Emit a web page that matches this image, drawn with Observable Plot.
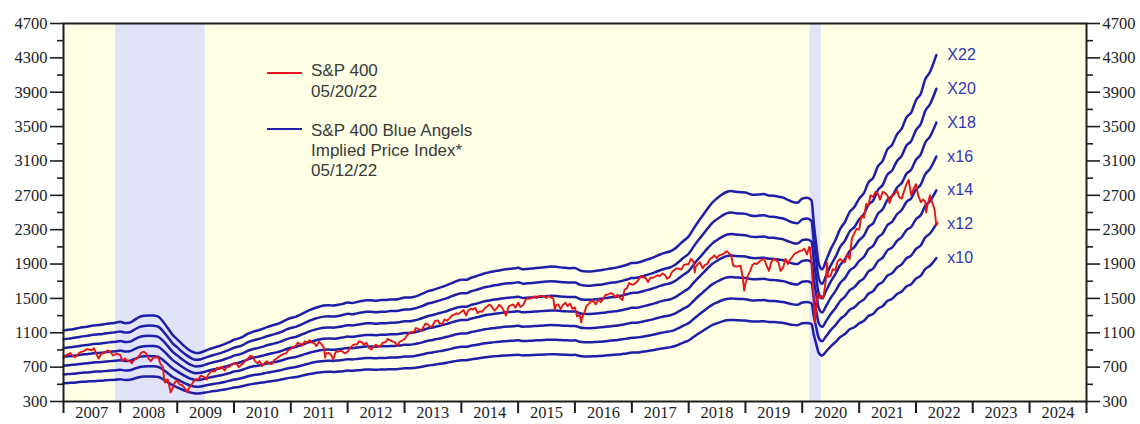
<!DOCTYPE html>
<html><head><meta charset="utf-8">
<script src="https://cdn.jsdelivr.net/npm/d3@7"></script>
<script src="https://cdn.jsdelivr.net/npm/@observablehq/plot@0.6"></script>
<style>
html,body{margin:0;padding:0;background:#fff;}
#wrap{position:relative;width:1140px;height:424px;overflow:hidden;}
.lg{position:absolute;font-family:"Liberation Sans",Arial,sans-serif;font-size:17px;color:#3a3a3a;line-height:20px;white-space:nowrap;}
.sw{position:absolute;height:2px;width:35px;}
</style></head><body>
<div id="wrap"></div>
<script>
// ---- data ----
const multiples = [10, 12, 14, 16, 18, 20, 22];
const multLabels = ["x10", "x12", "x14", "x16", "X18", "X20", "X22"];
const yTicks = [300, 700, 1100, 1500, 1900, 2300, 2700, 3100, 3500, 3900, 4300, 4700];
const yMinor = [500, 900, 1300, 1700, 2100, 2500, 2900, 3300, 3700, 4100, 4500];
const years = [2007, 2008, 2009, 2010, 2011, 2012, 2013, 2014, 2015, 2016, 2017, 2018, 2019, 2020, 2021, 2022, 2023, 2024];
const recessions = [["2007-12-01", "2009-06-30"], ["2020-02-20", "2020-05-01"]];

// S&P 400 forward earnings implied by the Blue Angels lines (line value / multiple)
const fwdEps = [
["2007-01",51.2],["2007-02",51.6],["2007-03",51.9],["2007-04",52.4],["2007-05",52.9],["2007-06",53.2],["2007-07",53.7],["2007-08",54.0],["2007-09",54.2],["2007-10",54.7],["2007-11",55.0],["2007-12",55.3],
["2008-01",55.8],["2008-02",55.1],["2008-03",55.3],["2008-04",56.8],["2008-05",58.3],["2008-06",59.0],["2008-07",59.2],["2008-08",59.1],["2008-09",58.5],["2008-10",56.0],["2008-11",52.5],["2008-12",49.0],
["2009-01",46.5],["2009-02",44.0],["2009-03",42.0],["2009-04",40.2],["2009-05",39.3],["2009-06",39.6],["2009-07",40.5],["2009-08",41.5],["2009-09",42.3],["2009-10",43.0],["2009-11",44.0],["2009-12",45.0],
["2010-01",46.3],["2010-02",47.0],["2010-03",48.0],["2010-04",49.5],["2010-05",50.5],["2010-06",51.2],["2010-07",52.0],["2010-08",53.0],["2010-09",53.8],["2010-10",54.5],["2010-11",55.5],["2010-12",56.8],
["2011-01",57.8],["2011-02",58.4],["2011-03",59.5],["2011-04",60.8],["2011-05",62.0],["2011-06",63.0],["2011-07",63.8],["2011-08",64.4],["2011-09",64.6],["2011-10",64.4],["2011-11",64.8],["2011-12",65.3],
["2012-01",66.0],["2012-02",65.8],["2012-03",66.3],["2012-04",66.8],["2012-05",67.2],["2012-06",67.2],["2012-07",66.9],["2012-08",67.3],["2012-09",67.3],["2012-10",67.6],["2012-11",67.6],["2012-12",68.0],
["2013-01",68.6],["2013-02",68.6],["2013-03",69.0],["2013-04",69.8],["2013-05",70.8],["2013-06",72.0],["2013-07",72.6],["2013-08",73.5],["2013-09",74.3],["2013-10",75.2],["2013-11",76.3],["2013-12",77.3],
["2014-01",78.0],["2014-02",78.0],["2014-03",79.0],["2014-04",79.8],["2014-05",80.6],["2014-06",81.5],["2014-07",82.0],["2014-08",82.6],["2014-09",83.0],["2014-10",83.5],["2014-11",83.8],["2014-12",84.0],
["2015-01",84.4],["2015-02",83.6],["2015-03",83.8],["2015-04",84.0],["2015-05",84.3],["2015-06",84.5],["2015-07",84.8],["2015-08",85.0],["2015-09",84.9],["2015-10",84.6],["2015-11",84.4],["2015-12",84.2],
["2016-01",84.3],["2016-02",83.0],["2016-03",82.5],["2016-04",82.4],["2016-05",82.6],["2016-06",82.9],["2016-07",83.3],["2016-08",83.8],["2016-09",84.2],["2016-10",84.6],["2016-11",85.3],["2016-12",86.0],
["2017-01",86.9],["2017-02",87.0],["2017-03",87.6],["2017-04",88.5],["2017-05",89.3],["2017-06",90.3],["2017-07",91.4],["2017-08",92.3],["2017-09",93.0],["2017-10",94.3],["2017-11",96.5],["2017-12",98.8],
["2018-01",101.0],["2018-02",105.0],["2018-03",108.5],["2018-04",112.0],["2018-05",115.5],["2018-06",118.8],["2018-07",121.0],["2018-08",123.0],["2018-09",124.5],["2018-10",125.0],["2018-11",124.6],["2018-12",124.4],
["2019-01",124.2],["2019-02",123.3],["2019-03",123.0],["2019-04",123.2],["2019-05",123.4],["2019-06",122.6],["2019-07",122.5],["2019-08",122.0],["2019-09",121.5],["2019-10",120.3],["2019-11",119.2],["2019-12",118.8],
["2020-01",121.0],["2020-02",121.5],["2020-03",120.0],["2020-03-15",108.0],["2020-04",96.0],["2020-04-15",87.0],["2020-05-08",83.5],["2020-06",88.0],["2020-07",94.0],["2020-08",99.0],["2020-09",105.0],["2020-10",108.5],["2020-11",114.0],["2020-12",116.5],
["2021-01",121.0],["2021-02",124.0],["2021-03",129.5],["2021-04",132.0],["2021-05",138.0],["2021-06",141.0],["2021-07",147.0],["2021-08",149.5],["2021-09",155.0],["2021-10",158.0],["2021-11",164.0],["2021-12",166.5],
["2022-01",173.0],["2022-02",176.5],["2022-03",184.0],["2022-04",188.0],["2022-05-12",197.0]
];

// S&P 400 index (red)
const sp400 = [
["2007-01-01",805],["2007-01-15",840],["2007-02-01",850],["2007-02-15",865],["2007-03-01",830],["2007-03-15",815],["2007-04-01",845],["2007-04-15",870],["2007-05-01",880],["2007-05-15",890],["2007-06-01",910],["2007-06-15",905],["2007-07-01",895],["2007-07-15",920],["2007-08-01",850],["2007-08-15",800],["2007-09-01",855],["2007-09-15",860],["2007-10-01",880],["2007-10-15",895],["2007-11-01",870],["2007-11-15",835],["2007-12-01",850],["2007-12-15",855],
["2008-01-01",840],["2008-01-15",770],["2008-02-01",800],["2008-02-15",775],["2008-03-01",770],["2008-03-15",745],["2008-04-01",790],["2008-04-15",800],["2008-05-01",830],["2008-05-15",870],["2008-06-01",880],["2008-06-15",860],["2008-07-01",800],["2008-07-15",770],["2008-08-01",810],["2008-08-15",815],["2008-09-01",810],["2008-09-15",740],["2008-10-01",700],["2008-10-10",540],["2008-10-15",520],["2008-11-01",560],["2008-11-20",405],["2008-12-01",450],["2008-12-15",520],
["2009-01-01",545],["2009-01-15",500],["2009-02-01",490],["2009-02-15",460],["2009-03-01",430],["2009-03-09",405],["2009-03-15",450],["2009-04-01",490],["2009-04-15",530],["2009-05-01",560],["2009-05-15",555],["2009-06-01",600],["2009-06-15",590],["2009-07-01",575],["2009-07-10",555],["2009-07-15",600],["2009-08-01",640],["2009-08-15",655],["2009-09-01",650],["2009-09-15",695],["2009-10-01",680],["2009-10-15",705],["2009-11-01",660],["2009-11-15",700],["2009-12-01",705],["2009-12-15",725],
["2010-01-01",740],["2010-01-15",745],["2010-02-01",700],["2010-02-15",725],["2010-03-01",745],["2010-03-15",775],["2010-04-01",800],["2010-04-15",830],["2010-05-01",825],["2010-05-15",770],["2010-06-01",745],["2010-06-15",770],["2010-07-01",710],["2010-07-15",745],["2010-08-01",770],["2010-08-15",740],["2010-09-01",735],["2010-09-15",780],["2010-10-01",800],["2010-10-15",820],["2010-11-01",840],["2010-11-15",855],["2010-12-01",860],["2010-12-15",895],
["2011-01-01",910],["2011-01-15",935],["2011-02-01",945],["2011-02-15",985],["2011-03-01",970],["2011-03-15",950],["2011-04-01",1000],["2011-04-15",985],["2011-05-01",1015],["2011-05-15",985],["2011-06-01",980],["2011-06-15",945],["2011-07-01",995],["2011-07-15",970],["2011-08-01",930],["2011-08-10",810],["2011-08-15",860],["2011-09-01",865],["2011-09-15",850],["2011-10-01",790],["2011-10-15",875],["2011-11-01",880],["2011-11-15",890],["2011-12-01",880],["2011-12-15",860],
["2012-01-01",880],["2012-01-15",920],["2012-02-01",950],["2012-02-15",965],["2012-03-01",965],["2012-03-15",1000],["2012-04-01",990],["2012-04-15",960],["2012-05-01",985],["2012-05-15",925],["2012-06-01",905],["2012-06-15",935],["2012-07-01",960],["2012-07-15",940],["2012-08-01",950],["2012-08-15",985],["2012-09-01",990],["2012-09-15",1030],["2012-10-01",1010],["2012-10-15",1000],["2012-11-01",985],["2012-11-15",950],["2012-12-01",995],["2012-12-15",1010],
["2013-01-01",1025],["2013-01-15",1065],["2013-02-01",1100],["2013-02-15",1110],["2013-03-01",1105],["2013-03-15",1155],["2013-04-01",1145],["2013-04-15",1120],["2013-05-01",1160],["2013-05-15",1205],["2013-06-01",1195],["2013-06-15",1165],["2013-07-01",1185],["2013-07-15",1235],["2013-08-01",1245],["2013-08-15",1210],["2013-09-01",1200],["2013-09-15",1255],["2013-10-01",1240],["2013-10-15",1265],["2013-11-01",1300],["2013-11-15",1310],["2013-12-01",1325],["2013-12-15",1320],
["2014-01-01",1345],["2014-01-15",1365],["2014-02-01",1300],["2014-02-15",1360],["2014-03-01",1380],["2014-03-15",1370],["2014-04-01",1390],["2014-04-15",1330],["2014-05-01",1350],["2014-05-15",1345],["2014-06-01",1385],["2014-06-15",1405],["2014-07-01",1430],["2014-07-15",1405],["2014-08-01",1360],["2014-08-15",1380],["2014-09-01",1425],["2014-09-15",1405],["2014-10-01",1355],["2014-10-15",1300],["2014-11-01",1405],["2014-11-15",1420],["2014-12-01",1430],["2014-12-15",1390],
["2015-01-01",1450],["2015-01-15",1400],["2015-02-01",1420],["2015-02-15",1475],["2015-03-01",1500],["2015-03-15",1495],["2015-04-01",1510],["2015-04-15",1525],["2015-05-01",1505],["2015-05-15",1525],["2015-06-01",1530],["2015-06-15",1525],["2015-07-01",1505],["2015-07-15",1530],["2015-08-01",1510],["2015-08-15",1500],["2015-08-25",1370],["2015-09-01",1420],["2015-09-15",1430],["2015-10-01",1375],["2015-10-15",1420],["2015-11-01",1450],["2015-11-15",1410],["2015-12-01",1440],["2015-12-15",1380],
["2016-01-01",1395],["2016-01-15",1290],["2016-02-01",1310],["2016-02-11",1220],["2016-02-15",1270],["2016-03-01",1330],["2016-03-15",1410],["2016-04-01",1440],["2016-04-15",1470],["2016-05-01",1465],["2016-05-15",1430],["2016-06-01",1490],["2016-06-15",1455],["2016-07-01",1495],["2016-07-15",1540],["2016-08-01",1545],["2016-08-15",1560],["2016-09-01",1555],["2016-09-15",1510],["2016-10-01",1545],["2016-10-15",1510],["2016-11-01",1480],["2016-11-15",1600],["2016-12-01",1620],["2016-12-15",1680],
["2017-01-01",1660],["2017-01-15",1665],["2017-02-01",1690],["2017-02-15",1725],["2017-03-01",1760],["2017-03-15",1745],["2017-04-01",1735],["2017-04-15",1690],["2017-05-01",1740],["2017-05-15",1740],["2017-06-01",1755],["2017-06-15",1770],["2017-07-01",1760],["2017-07-15",1790],["2017-08-01",1775],["2017-08-15",1730],["2017-09-01",1750],["2017-09-15",1805],["2017-10-01",1830],["2017-10-15",1850],["2017-11-01",1845],["2017-11-15",1835],["2017-12-01",1890],["2017-12-15",1895],
["2018-01-01",1900],["2018-01-15",1960],["2018-02-01",1930],["2018-02-09",1800],["2018-02-15",1870],["2018-03-01",1900],["2018-03-15",1920],["2018-04-01",1850],["2018-04-15",1890],["2018-05-01",1900],["2018-05-15",1950],["2018-06-01",1975],["2018-06-15",2000],["2018-07-01",1970],["2018-07-15",2000],["2018-08-01",2010],["2018-08-15",2020],["2018-09-01",2050],["2018-09-15",2030],["2018-10-01",2000],["2018-10-15",1880],["2018-11-01",1870],["2018-11-15",1875],["2018-12-01",1880],["2018-12-15",1740],["2018-12-24",1590],
["2019-01-01",1670],["2019-01-15",1760],["2019-02-01",1820],["2019-02-15",1890],["2019-03-01",1910],["2019-03-15",1900],["2019-04-01",1930],["2019-04-15",1950],["2019-05-01",1960],["2019-05-15",1890],["2019-06-01",1820],["2019-06-15",1920],["2019-07-01",1960],["2019-07-15",1950],["2019-08-01",1920],["2019-08-15",1820],["2019-09-01",1860],["2019-09-15",1960],["2019-10-01",1900],["2019-10-15",1950],["2019-11-01",1990],["2019-11-15",2025],["2019-12-01",2035],["2019-12-15",2050],
["2020-01-01",2060],["2020-01-15",2080],["2020-02-01",2010],["2020-02-15",2100],["2020-02-20",2090],["2020-03-01",1890],["2020-03-09",1650],["2020-03-16",1400],["2020-03-23",1220],["2020-04-01",1420],["2020-04-09",1560],["2020-04-15",1500],["2020-05-01",1530],["2020-05-15",1500],["2020-06-01",1720],["2020-06-08",1920],["2020-06-15",1750],["2020-07-01",1760],["2020-07-15",1840],["2020-08-01",1830],["2020-08-15",1930],["2020-09-01",1960],["2020-09-15",1930],["2020-10-01",1920],["2020-10-15",2010],["2020-11-01",1960],["2020-11-15",2200],["2020-12-01",2260],["2020-12-15",2310],
["2021-01-01",2300],["2021-01-15",2460],["2021-02-01",2440],["2021-02-15",2600],["2021-03-01",2580],["2021-03-15",2700],["2021-04-01",2680],["2021-04-15",2740],["2021-05-01",2720],["2021-05-15",2650],["2021-06-01",2740],["2021-06-15",2730],["2021-07-01",2700],["2021-07-15",2610],["2021-08-01",2700],["2021-08-15",2710],["2021-09-01",2760],["2021-09-15",2680],["2021-10-01",2660],["2021-10-15",2740],["2021-11-01",2830],["2021-11-15",2880],["2021-12-01",2700],["2021-12-15",2770],
["2022-01-01",2830],["2022-01-15",2700],["2022-02-01",2620],["2022-02-15",2650],["2022-03-01",2630],["2022-03-08",2500],["2022-03-15",2580],["2022-04-01",2700],["2022-04-15",2620],["2022-05-01",2530],["2022-05-12",2350],["2022-05-20",2380]
];

// ---- build tables for Plot ----
const parse = s => new Date(s.length === 7 ? s + "-01T00:00:00Z" : s + "T00:00:00Z");
const redRows = sp400.map(([d, v]) => ({date: parse(d), value: v}));
const blueRows = multiples.flatMap((m, i) =>
  fwdEps.map(([d, e]) => ({date: parse(d), value: e * m, mult: m, label: multLabels[i]})));
const recRows = recessions.map(([a, b]) => ({start: parse(a), end: parse(b)}));
const yearStarts = years.concat([years[years.length - 1] + 1]).map(y => new Date(Date.UTC(y, 0, 1)));
const yearMids = years.map(y => new Date(Date.UTC(y, 6, 2)));

const serif = "'Liberation Serif','Times New Roman',serif";
const axisFont = 16.5;

const chart = Plot.plot({
  width: 1140, height: 424,
  marginLeft: 63, marginRight: 54, marginTop: 23, marginBottom: 23,
  x: {type: "utc", domain: [yearStarts[0], yearStarts[yearStarts.length - 1]]},
  y: {domain: [300, 4700]},
  style: {fontFamily: serif, fontSize: axisFont + "px", color: "#1e1e1e", background: "#fff", overflow: "visible"},
  marks: [
    Plot.frame({fill: "#FFFFE6", stroke: null}),
    Plot.rect(recRows, {x1: "start", x2: "end", fill: "#E1E3F9"}),
    Plot.line(blueRows, {x: "date", y: "value", z: "mult", stroke: "#1E1EA8", strokeWidth: 2.5, curve: "monotone-x"}),
    Plot.line(redRows, {x: "date", y: "value", stroke: "#E4161C", strokeWidth: 1.9}),
    Plot.text(blueRows, Plot.selectLast({x: "date", y: "value", z: "mult", text: "label", dx: 11, textAnchor: "start",
      fill: "#3434B8", fontFamily: "'Liberation Sans',Arial,sans-serif", fontSize: 16})),
    Plot.axisY({anchor: "left", ticks: yTicks, tickSize: 13, tickPadding: 3, tickFormat: d => String(d), label: null, fontSize: axisFont, strokeWidth: 1.6}),
    Plot.axisY({anchor: "left", ticks: yMinor, tickSize: 6, tickFormat: () => "", label: null, strokeWidth: 1.6}),
    Plot.axisY({anchor: "right", ticks: yTicks, tickSize: 13, tickPadding: 3, tickFormat: d => String(d), label: null, fontSize: axisFont, strokeWidth: 1.6}),
    Plot.axisY({anchor: "right", ticks: yMinor, tickSize: 6, tickFormat: () => "", label: null, strokeWidth: 1.6}),
    Plot.axisX({ticks: yearStarts, tickSize: 12, tickFormat: () => "", label: null, strokeWidth: 2}),
    Plot.axisX({ticks: yearMids, tickSize: 0, tickPadding: 5, tickFormat: d => String(d.getUTCFullYear()), label: null, fontSize: axisFont}),
    Plot.frame({stroke: "#1e1e1e", strokeWidth: 2})
  ]
});

const wrap = document.getElementById("wrap");
wrap.appendChild(chart);

// legend (HTML overlay inside the plot area)
const legendItems = [
  {color: "#E4161C", swatchTop: 72, lines: ["S&P 400", "05/20/22"], tops: [61, 82]},
  {color: "#1E1EA8", swatchTop: 128, lines: ["S&P 400 Blue Angels", "Implied Price Index*", "05/12/22"], tops: [121, 141, 161]}
];
for (const it of legendItems) {
  const sw = document.createElement("div");
  sw.className = "sw";
  sw.style.left = "267px"; sw.style.top = it.swatchTop + "px"; sw.style.background = it.color;
  wrap.appendChild(sw);
  it.lines.forEach((t, k) => {
    const d = document.createElement("div");
    d.className = "lg"; d.textContent = t;
    d.style.left = "311px"; d.style.top = it.tops[k] + "px";
    wrap.appendChild(d);
  });
}
</script>
</body></html>
